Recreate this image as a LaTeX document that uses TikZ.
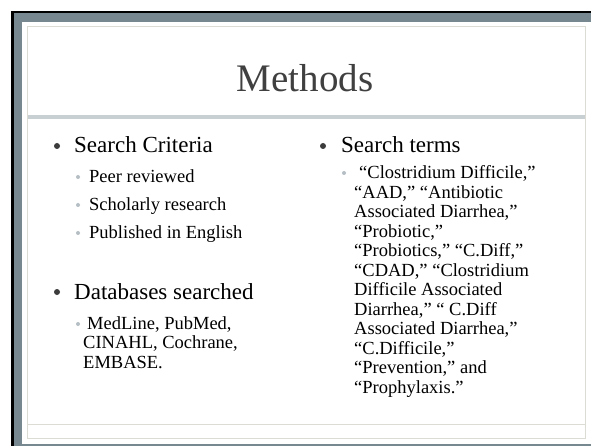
\documentclass[tikz,border=0pt]{standalone}
\usepackage{fontspec}
\setmainfont{Liberation Serif}
\definecolor{slate}{HTML}{778891}
\definecolor{beige}{HTML}{DCDCD4}
\definecolor{sepbar}{HTML}{C8D0D3}
\definecolor{titlegray}{HTML}{404040}
\definecolor{bulletdark}{HTML}{3C3C3C}
\definecolor{bulletlight}{HTML}{B4BEC4}
\tikzset{
  lvlone/.style={anchor=base west, inner sep=0pt, font=\fontsize{23}{26}\selectfont, text=black},
  lvltwo/.style={anchor=north west, inner sep=0pt, align=left, font=\fontsize{18.5}{19.5}\selectfont, text=black},
  bigdot/.style={fill=bulletdark},
  smalldot/.style={fill=bulletlight}
}
\begin{document}
\begin{tikzpicture}[x=1pt,y=-1pt]
\useasboundingbox (0,0) rectangle (591,446);
\fill[white] (0,0) rectangle (591,446);
% frame
\fill[slate] (11,11) rectangle (591,446);
\fill[black] (11,11) rectangle (591,13.5);
\fill[black] (11,11) rectangle (13.5,446);
\fill[white] (22,22) rectangle (591,444);
\draw[beige, line width=1.2pt] (27.5,26.5) rectangle (585.5,438.5);
\draw[beige, line width=1.2pt] (27.5,424.5) -- (585.5,424.5);
\fill[sepbar] (28,115) rectangle (585,119);
% title
\node[anchor=base, inner sep=0pt, font=\fontsize{39}{44}\selectfont, text=titlegray] (title) at (305,92) {Methods};
% left column
\fill[bigdot] (57,146) circle (3);
\node[lvlone] (crit) at (74,153) {Search Criteria};
\fill[smalldot] (78,177) circle (2);
\node[lvltwo, anchor=base west] (peer) at (89,183) {Peer reviewed};
\fill[smalldot] (78,205) circle (2);
\node[lvltwo, anchor=base west] (schol) at (89,211) {Scholarly research};
\fill[smalldot] (78,233) circle (2);
\node[lvltwo, anchor=base west] (publ) at (89,239) {Published in English};
\fill[bigdot] (57,292) circle (3);
\node[lvlone] (db) at (74,299) {Databases searched};
\fill[smalldot] (78,324) circle (2);
\node[lvltwo] (dblist) at (83,316.35) {\hspace{4pt}MedLine, PubMed,\\CINAHL, Cochrane,\\EMBASE.};
% right column
\fill[bigdot] (323,146) circle (3);
\node[lvlone] (terms) at (341,153) {Search terms};
\fill[smalldot] (344,173) circle (2);
\node[lvltwo] (termlist) at (354,165.35) {\hspace{5pt}“Clostridium Difficile,”\\“AAD,” “Antibiotic\\Associated Diarrhea,”\\“Probiotic,”\\“Probiotics,” “C.Diff,”\\“CDAD,” “Clostridium\\Difficile Associated\\Diarrhea,” “ C.Diff\\Associated Diarrhea,”\\“C.Difficile,”\\“Prevention,” and\\“Prophylaxis.”};
\end{tikzpicture}
\end{document}
